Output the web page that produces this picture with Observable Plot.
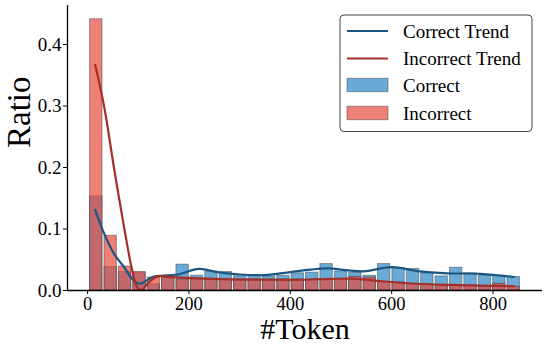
<!DOCTYPE html>
<html>
<head>
<meta charset="utf-8">
<script src="https://cdn.jsdelivr.net/npm/d3@7"></script>
<script src="https://cdn.jsdelivr.net/npm/@observablehq/plot@0.6"></script>
<style>
  html, body { margin: 0; padding: 0; background: #fff; }
  svg { display: block; }
</style>
</head>
<body>
<div id="chart"></div>
<script>
// Histogram bin edges (#Token)
const binEdges = [3, 31.4, 59.8, 88.2, 116.6, 145, 173.4, 201.8, 230.2, 258.6, 287, 315.4, 343.8, 372.2, 400.6, 429, 457.4, 485.8, 514.2, 542.6, 571, 599.4, 627.8, 656.2, 684.6, 713, 741.4, 769.8, 798.2, 826.6, 855];
// Ratio per bin
const correctRatio = [0.153, 0.038, 0.030, 0.029, 0.010, 0.020, 0.042, 0.024, 0.031, 0.030, 0.023, 0.025, 0.023, 0.024, 0.028, 0.029, 0.043, 0.031, 0.029, 0.024, 0.043, 0.036, 0.035, 0.028, 0.023, 0.037, 0.028, 0.024, 0.024, 0.022];
const incorrectRatio = [0.441, 0.089, 0.039, 0.030, 0.021, 0.021, 0.018, 0.018, 0.018, 0.018, 0.018, 0.018, 0.018, 0.018, 0.018, 0.018, 0.018, 0.018, 0.022, 0.021, 0.014, 0.013, 0.011, 0.010, 0.009, 0.009, 0.008, 0.006, 0.011, 0.006];
// Trend (KDE) curves
const correctTrendX = [15, 33, 52, 72, 88, 101, 111, 128, 144, 177, 220, 256, 300, 350, 400, 440, 475, 510, 545, 600, 655, 710, 775, 841];
const correctTrendY = [0.131, 0.092, 0.060, 0.038, 0.019, 0.011, 0.0135, 0.022, 0.024, 0.026, 0.035, 0.030, 0.026, 0.025, 0.030, 0.034, 0.036, 0.033, 0.031, 0.038, 0.031, 0.028, 0.027, 0.022];
const incorrectTrendX = [15, 33, 52, 72, 88, 98, 106, 121, 138, 160, 210, 280, 350, 420, 480, 530, 580, 645, 710, 775, 841];
const incorrectTrendY = [0.367, 0.298, 0.200, 0.103, 0.033, 0.005, 0.001, 0.0135, 0.023, 0.022, 0.020, 0.018, 0.0175, 0.0175, 0.019, 0.019, 0.015, 0.011, 0.009, 0.008, 0.007];
// Ticks
const xTicks = [0, 200, 400, 600, 800];
const yTicks = [0.0, 0.1, 0.2, 0.3, 0.4];
const legendLabels = ["Correct Trend", "Incorrect Trend", "Correct", "Incorrect"];

const bins = correctRatio.map((c, i) => ({x1: binEdges[i], x2: binEdges[i + 1], correct: c, incorrect: incorrectRatio[i]}));
const cTrend = correctTrendX.map((x, i) => ({x, y: correctTrendY[i]}));
const iTrend = incorrectTrendX.map((x, i) => ({x, y: incorrectTrendY[i]}));

const FONT = "'Liberation Serif', 'Times New Roman', serif";
const xDomain = [-39.6, 897.6];
const blueFill = "#2a86c4", redFill = "#e84a3d";
const blueLine = "#1d5683", redLine = "#a5302a";

const svg = Plot.plot({
  width: 548,
  height: 351,
  marginLeft: 67,
  marginRight: 6,
  marginTop: 5,
  marginBottom: 61,
  style: {fontFamily: FONT, fontSize: "19px", color: "black", background: "white"},
  x: {domain: xDomain},
  y: {domain: [0, 0.4634]},
  marks: [
    Plot.rectY(bins, {x1: "x1", x2: "x2", y: "correct", fill: blueFill, fillOpacity: 0.7, stroke: "#333", strokeOpacity: 0.45, strokeWidth: 1, insetLeft: 1, insetRight: 1}),
    Plot.rectY(bins, {x1: "x1", x2: "x2", y: "incorrect", fill: redFill, fillOpacity: 0.7, stroke: "#333", strokeOpacity: 0.45, strokeWidth: 1, insetLeft: 1, insetRight: 1}),
    Plot.line(cTrend, {x: "x", y: "y", stroke: blueLine, strokeWidth: 2.2, curve: "catmull-rom"}),
    Plot.line(iTrend, {x: "x", y: "y", stroke: redLine, strokeWidth: 2.2, curve: "catmull-rom"}),
    Plot.ruleY([0], {stroke: "black", strokeWidth: 1.3}),
    Plot.ruleX([xDomain[0]], {stroke: "black", strokeWidth: 1.3}),
    Plot.axisX({ticks: xTicks, tickSize: 4, tickPadding: 2, fontSize: 18.5, label: null, stroke: "black"}),
    Plot.axisY({ticks: yTicks, tickFormat: d3.format(".1f"), tickSize: 4, tickPadding: 2, fontSize: 19, label: null, stroke: "black"}),
    Plot.text(["Ratio"], {text: d => d, frameAnchor: "left", dx: -48, rotate: -90, fontSize: 33, lineAnchor: "middle", fill: "black"}),
    Plot.text(["#Token"], {text: d => d, frameAnchor: "bottom", dy: 27, fontSize: 30, lineAnchor: "top", fill: "black"})
  ]
});

// Legend
const g = d3.select(svg).append("g").attr("font-family", FONT).attr("font-size", 19).attr("text-anchor", "start");
g.append("rect").attr("x", 340).attr("y", 15).attr("width", 192).attr("height", 116.5).attr("rx", 4)
  .attr("fill", "white").attr("fill-opacity", 0.85).attr("stroke", "#444").attr("stroke-width", 1);
const rowsY = [31, 58.5, 85, 113];
g.append("line").attr("x1", 347).attr("x2", 388).attr("y1", rowsY[0]).attr("y2", rowsY[0]).attr("stroke", blueLine).attr("stroke-width", 2.2);
g.append("line").attr("x1", 347).attr("x2", 388).attr("y1", rowsY[1]).attr("y2", rowsY[1]).attr("stroke", redLine).attr("stroke-width", 2.2);
g.append("rect").attr("x", 347).attr("y", rowsY[2] - 6.7).attr("width", 41).attr("height", 13.4).attr("fill", blueFill).attr("fill-opacity", 0.7).attr("stroke", "#333").attr("stroke-opacity", 0.45);
g.append("rect").attr("x", 347).attr("y", rowsY[3] - 6.7).attr("width", 41).attr("height", 13.4).attr("fill", redFill).attr("fill-opacity", 0.7).attr("stroke", "#333").attr("stroke-opacity", 0.45);
legendLabels.forEach((t, i) => {
  g.append("text").attr("x", 403).attr("y", rowsY[i]).attr("dy", "0.35em").attr("fill", "black").attr("text-anchor", "start").text(t);
});

document.getElementById("chart").appendChild(svg);
</script>
</body>
</html>
